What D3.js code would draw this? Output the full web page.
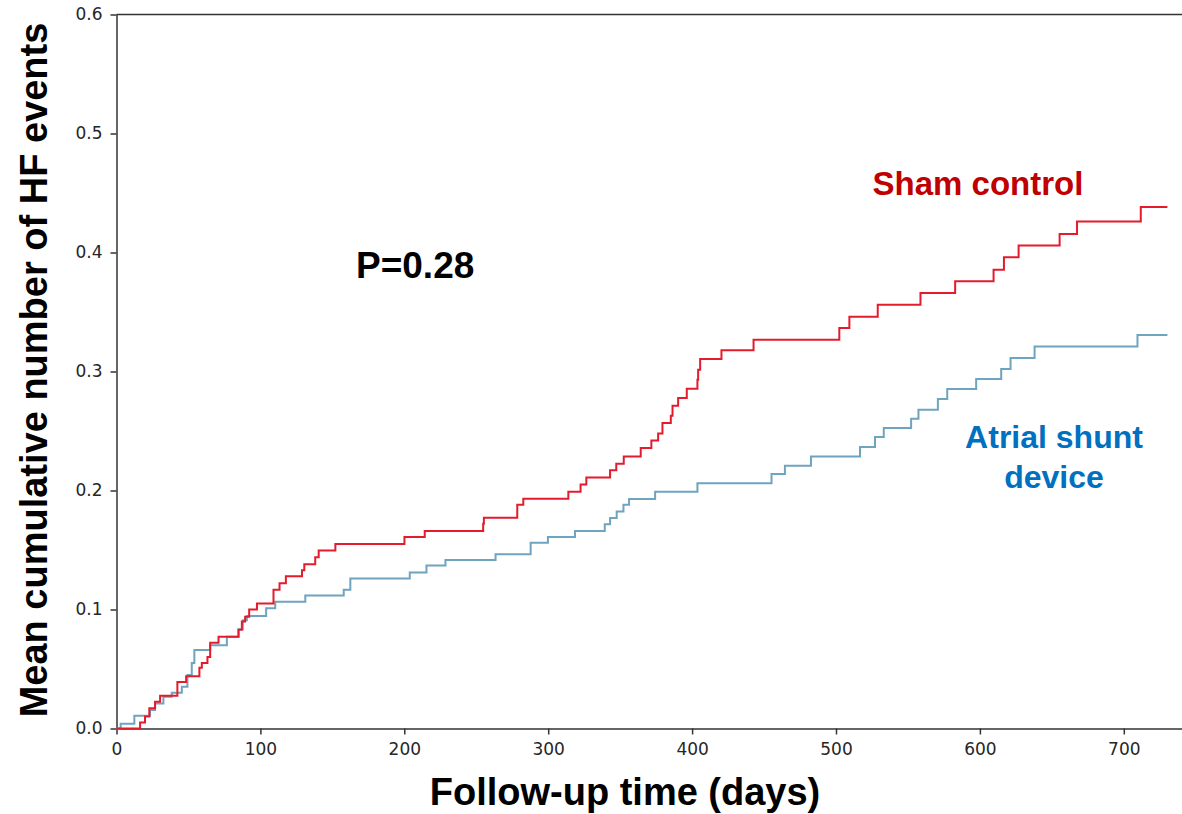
<!DOCTYPE html>
<html>
<head>
<meta charset="utf-8">
<script src="https://cdn.jsdelivr.net/npm/d3@7"></script>
<style>
    body { margin: 0; background: #fff; }
    #chart { width: 1182px; height: 814px; }
    .axis path, .axis line { stroke: #333; stroke-width: 1.5; }
    .axis text { font-family: "DejaVu Sans", sans-serif; font-size: 17px; fill: #262626; }
    .title { font-family: "Liberation Sans", Arial, sans-serif; font-weight: bold; }
</style>
</head>
<body>
<div id="chart"></div>
<script>
/*
    DATA (day, mean cumulative events)
*/
const shamDays = [0, 16.4, 19.8, 22.8, 26.8, 30.3, 42.3, 48.4, 57.6, 59.3, 63.2, 65.1, 70.9, 84.8, 87.1, 89.4, 92.2, 97.6, 109.1, 113.3, 117.7, 128.9, 130.5, 138.1, 140.5, 152.1,
    200.1, 214.2, 254.8, 255.3, 278.5, 282.7, 314, 322.5, 326.5, 343, 347.3, 352.5, 364.3, 371.7, 376.4, 379.4, 385.2, 386.4, 390.3, 396.3, 403.7, 404.2, 405.6, 420.4, 442.7,
    502.3, 509.3, 529, 558.7, 582.8, 609.5, 616.7, 626.9, 655.4, 667.5, 711.8, 730.3];
const shamEvents = [0, 0.005, 0.01, 0.017, 0.0225, 0.0276, 0.039, 0.044, 0.051, 0.055, 0.06, 0.072, 0.077, 0.083, 0.09, 0.094, 0.1, 0.105, 0.1165, 0.122, 0.128, 0.133, 0.138, 0.144, 0.1495, 0.155,
    0.161, 0.166, 0.172, 0.177, 0.188, 0.193, 0.199, 0.205, 0.211, 0.217, 0.2225, 0.2286, 0.2357, 0.242, 0.248, 0.2567, 0.2628, 0.2712, 0.2777, 0.2855, 0.293, 0.3015, 0.3105, 0.3178, 0.3267,
    0.3366, 0.346, 0.356, 0.366, 0.3758, 0.3856, 0.396, 0.4058, 0.4156, 0.426, 0.4383, 0.4383];

const shuntDays = [0, 2.9, 12.4, 23.3, 26.8, 32.6, 38.4, 45.4, 49.3, 52.3, 54.1, 65.1, 76.7, 84.8, 87.8, 90.6, 104, 110.3, 131.2, 157.9, 162.5, 203.8, 215.4, 228.6, 263.4, 287.8, 299.8,
    318.6, 339.3, 343, 347.6, 352.3, 356.2, 374.3, 403.7, 455.2, 464.5, 482.6, 516.7, 527.1, 533.2, 552.2, 557.3, 570.8, 577.3, 597.4, 614.8, 621.3, 638, 709.5, 730.3];
const shuntEvents = [0, 0.004, 0.0108, 0.0156, 0.021, 0.0267, 0.03, 0.035, 0.045, 0.055, 0.066, 0.07, 0.077, 0.0834, 0.091, 0.0946, 0.101, 0.1066, 0.1117, 0.1165, 0.126, 0.131, 0.137, 0.1417, 0.1465, 0.156, 0.161,
    0.166, 0.1717, 0.1768, 0.1823, 0.188, 0.1928, 0.199, 0.206, 0.2138, 0.2208, 0.2286, 0.2365, 0.245, 0.2525, 0.2603, 0.2679, 0.2769, 0.2853, 0.2937, 0.302, 0.3113, 0.321, 0.3307, 0.3307];

const xTicks = [0, 100, 200, 300, 400, 500, 600, 700];
const yTicks = [0, 0.1, 0.2, 0.3, 0.4, 0.5, 0.6];

/*
    SETTING UP THE SVG CANVAS
*/
const width = 1182;
const height = 814;
const margin = {top: 14.5, left: 116.5, bottom: 85.5};

const canvas = d3.select("#chart")
    .append("svg")
    .attr("width", width)
    .attr("height", height);

/*
    CREATE THE SCALE
*/
const xScale = d3.scaleLinear()
    .domain([0, 750])
    .range([margin.left, margin.left + 7.5 * 143.9]);

const yScale = d3.scaleLinear()
    .domain([0, 0.6])
    .range([height - margin.bottom, margin.top]);

/*
    CREATE THE AXES
*/
const xAxis = canvas.append("g")
    .attr("class", "axis")
    .attr("transform", `translate(0,${height - margin.bottom})`)
    .call(d3.axisBottom(xScale).tickValues(xTicks).tickSize(6).tickPadding(8).tickSizeOuter(0));

const yAxis = canvas.append("g")
    .attr("class", "axis")
    .attr("transform", `translate(${margin.left},0)`)
    .call(d3.axisLeft(yScale).tickValues(yTicks).tickFormat(d3.format(".1f")).tickSize(6).tickPadding(8).tickSizeOuter(0));

// top spine (right one falls outside the picture)
canvas.append("line")
    .attr("x1", xScale(0)).attr("x2", xScale(750))
    .attr("y1", yScale(0.6)).attr("y2", yScale(0.6))
    .attr("stroke", "#333")
    .attr("stroke-width", 1.5);

/*
    DRAW THE STEP LINES
*/
const line = d3.line()
    .x(function(d) { return xScale(d[0]); })
    .y(function(d) { return yScale(d[1]); })
    .curve(d3.curveStepAfter);

const shunt = d3.zip(shuntDays, shuntEvents);
const sham = d3.zip(shamDays, shamEvents);

canvas.append("path")
    .datum(shunt)
    .attr("d", line)
    .attr("fill", "none")
    .attr("stroke", "#6ea4be")
    .attr("stroke-width", 2);

canvas.append("path")
    .datum(sham)
    .attr("d", line)
    .attr("fill", "none")
    .attr("stroke", "#e41b2d")
    .attr("stroke-width", 2);

/*
    LABELS
*/
canvas.append("text")
    .attr("class", "title")
    .attr("x", 978)
    .attr("y", 195)
    .attr("text-anchor", "middle")
    .style("font-size", "33px")
    .style("fill", "#c00000")
    .text("Sham control");

const shuntLabel = canvas.append("text")
    .attr("class", "title")
    .attr("text-anchor", "middle")
    .style("font-size", "32px")
    .style("fill", "#0070c0");
shuntLabel.append("tspan").attr("x", 1054).attr("y", 448).text("Atrial shunt");
shuntLabel.append("tspan").attr("x", 1054).attr("y", 488).text("device");

canvas.append("text")
    .attr("class", "title")
    .attr("x", 356)
    .attr("y", 278)
    .style("font-size", "37px")
    .style("fill", "#000")
    .text("P=0.28");

/*
    AXIS TITLES
*/
canvas.append("text")
    .attr("class", "title")
    .attr("x", 625)
    .attr("y", 805)
    .attr("text-anchor", "middle")
    .style("font-size", "38px")
    .text("Follow-up time (days)");

canvas.append("text")
    .attr("class", "title")
    .attr("transform", "rotate(-90)")
    .attr("x", -370)
    .attr("y", 47)
    .attr("text-anchor", "middle")
    .style("font-size", "38px")
    .text("Mean cumulative number of HF events");
</script>
</body>
</html>
